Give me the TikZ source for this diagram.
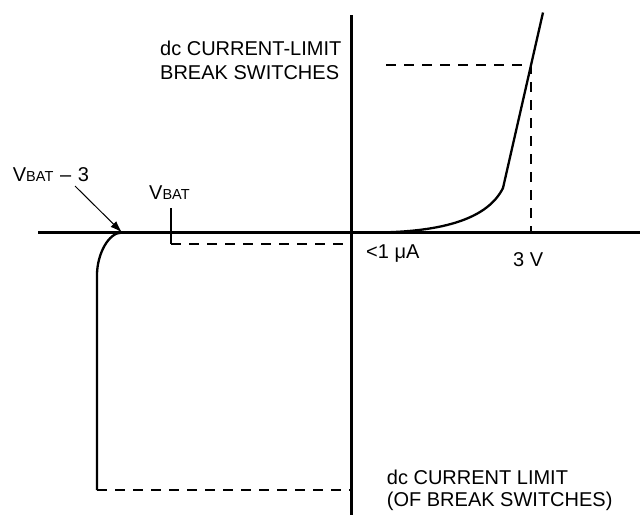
\documentclass[tikz,border=0pt]{standalone}
\usepackage{fontspec}
\setmainfont{Liberation Sans}
\usetikzlibrary{arrows.meta}
\newcommand\smallcap[1]{{\fontsize{14.5}{16}\selectfont #1}}
\tikzset{
  axisline/.style={line width=2.7pt},
  curveline/.style={line width=2.3pt, line join=round},
  guide/.style={line width=2pt, dash pattern=on 10pt off 8pt},
  lbl/.style={inner sep=0pt, anchor=base west, font=\fontsize{20}{22}\selectfont},
  pointer/.style={line width=1pt, -{Latex[length=12pt,width=8pt]}}
}
\begin{document}
\begin{tikzpicture}[x=1pt,y=-1pt]
\useasboundingbox (0,0) rectangle (640,517);
% axes
\coordinate (xl) at (38,232.5);
\coordinate (xr) at (640,232.5);
\coordinate (yt) at (351.5,15);
\coordinate (yb) at (351.5,515);
\draw[axisline] (xl) -- (xr);
\draw[axisline] (yt) -- (yb);
% reverse branch
\coordinate (lb) at (97,490);
\coordinate (lk) at (97,275);
\coordinate (lj) at (122,232.5);
\draw[curveline] (lb) -- (lk) .. controls (97,255) and (108,232.5) .. (lj) -- (150,232.5);
% forward branch
\coordinate (rs) at (375,232.5);
\coordinate (rk) at (503,188);
\coordinate (rt) at (543,12.5);
\draw[curveline] (rs) .. controls (445,232) and (488,218) .. (rk) -- (rt);
% guides
\coordinate (bl) at (97,490);
\coordinate (br) at (351.5,490);
\draw[guide] (bl) -- (br);
\coordinate (tl) at (386,65);
\coordinate (tc) at (531,65);
\coordinate (tb) at (531,232.5);
\draw[guide] (tl) -- (tc) -- (tb);
\coordinate (vt) at (171,208);
\coordinate (vc) at (171,244);
\coordinate (ve) at (351.5,244);
\draw[guide, solid] (vt) -- (vc);
\draw[guide] (vc) -- (ve);
% labels
\node[lbl] (vbat3) at (12.7,181) {V\smallcap{BAT}\,\,–\,\,3};
\node[lbl] (vbat) at (149,199) {V\smallcap{BAT}};
\node[lbl] (ua) at (366,258) {<1 μA};
\node[lbl] (tv) at (513,266) {3 V};
\node[lbl] (tl1) at (160,55) {dc CURRENT-LIMIT};
\node[lbl] (tl2) at (160,79) {BREAK SWITCHES};
\node[lbl] (bl1) at (386.7,484) {dc CURRENT LIMIT};
\node[lbl] (bl2) at (386.7,506) {(OF BREAK SWITCHES)};
% pointer
\coordinate (ps) at (75,186);
\draw[pointer] (ps) -- (lj);
\end{tikzpicture}
\end{document}
